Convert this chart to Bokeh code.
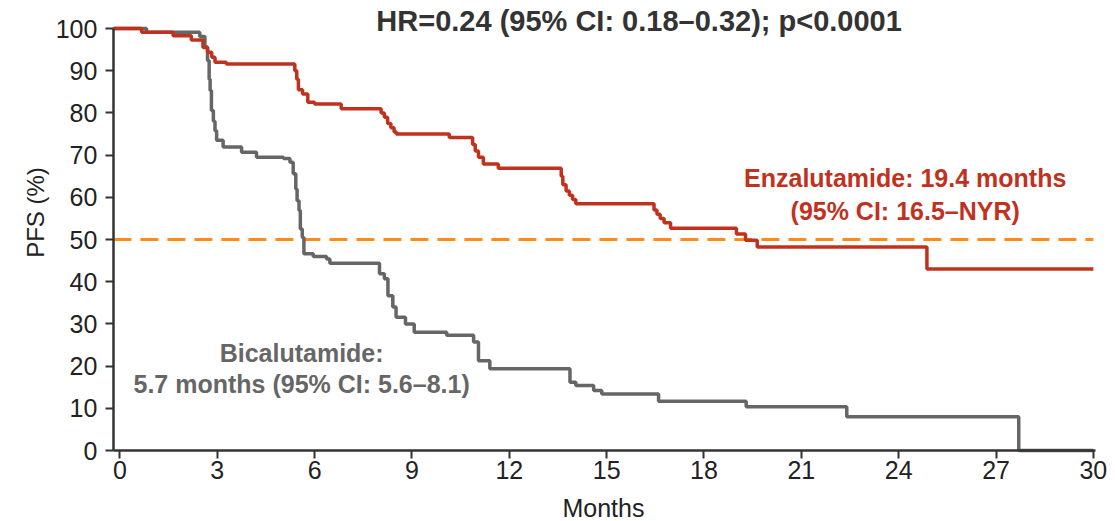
import math
from bokeh.plotting import figure
from bokeh.models import Label, FixedTicker, Range1d
from bokeh.embed import file_html
from bokeh.resources import INLINE

# ---- data ----
month_ticks = [0, 3, 6, 9, 12, 15, 18, 21, 24, 27, 30]
pfs_ticks = [0, 10, 20, 30, 40, 50, 60, 70, 80, 90, 100]

enza_t = [0, 0.67, 1.64, 2.2, 2.56, 2.7, 2.83, 2.93, 3.28,
          5.39, 5.45, 5.5, 5.63, 5.79, 6.0, 6.82,
          8.05, 8.15, 8.25, 8.35, 8.45, 8.52,
          10.15, 10.87, 10.95, 11.05, 11.2, 11.66,
          13.6, 13.65, 13.75, 13.85, 13.95, 14.05,
          16.46, 16.55, 16.65, 16.77, 16.97,
          19.0, 19.28, 19.64, 24.87, 30.0]
enza_s = [100, 99.1, 98.3, 97.3, 95.5, 94.4, 93.2, 92.0, 91.6,
          90.0, 88.0, 85.5, 84.5, 82.5, 82.1, 81.0,
          80.0, 79.0, 77.5, 76.5, 75.5, 75.0,
          74.2, 72.5, 71.0, 69.5, 67.9, 66.9,
          65.0, 63.0, 61.5, 60.5, 59.5, 58.5,
          57.0, 56.0, 55.0, 54.0, 52.7,
          51.3, 49.8, 48.2, 43.0, 43.0]

bica_t = [0, 0.82, 2.46, 2.62, 2.7, 2.75, 2.78, 2.82, 2.88, 2.93, 2.98, 3.18,
          3.75, 4.21, 5.04, 5.24, 5.34, 5.42, 5.46, 5.52, 5.56, 5.62, 5.67,
          5.96, 6.37, 6.47, 8.0, 8.15, 8.26, 8.41, 8.51, 8.8, 9.07,
          10.07, 10.9, 11.05, 11.4, 13.87, 14.05, 14.6, 14.85,
          16.6, 19.3, 22.4, 27.7, 30.0]
bica_s = [100, 99.1, 98.1, 95.6, 92.4, 88.0, 85.3, 80.6, 78.0, 75.8, 73.5, 71.9,
          70.7, 69.5, 69.2, 68.3, 65.6, 62.0, 59.2, 56.9, 52.5, 50.5, 46.6,
          46.0, 45.4, 44.4, 41.9, 40.7, 36.7, 34.0, 31.6, 30.0, 28.0,
          27.3, 25.7, 21.3, 19.4, 16.2, 15.4, 14.2, 13.4,
          11.7, 10.4, 8.0, 0.0, 0.0]

median_level = 50

title_text = "HR=0.24 (95% CI: 0.18\u20130.32); p<0.0001"
x_label = "Months"
y_label = "PFS (%)"
enza_lines = ["Enzalutamide: 19.4 months", "(95% CI: 16.5\u2013NYR)"]
bica_lines = ["Bicalutamide:", "5.7 months (95% CI: 5.6\u20138.1)"]

# ---- styling ----
RED = "#c1321e"
GRAY = "#666666"
ORANGE = "#ff8c1a"
DARK = "#333333"
FONT = "Liberation Sans"

# the frame covers the whole canvas; axes sit at fixed locations inside it
X_AXIS = -0.2          # where the y axis stands
X_AXIS_END = 30.05
X_START, X_END = -3.68, 30.62
Y_START, Y_END = -16.82, 106.64

p = figure(width=1113, height=521,
           x_range=Range1d(X_START, X_END), y_range=Range1d(Y_START, Y_END),
           output_backend="svg", toolbar_location=None,
           min_border_left=0, min_border_right=0,
           min_border_top=0, min_border_bottom=0)
p.outline_line_color = None
p.grid.visible = False
p.background_fill_color = "white"

# reference line at 50%
p.segment(x0=[X_AXIS], x1=[month_ticks[-1]], y0=[median_level], y1=[median_level],
          line_color=ORANGE, line_width=3, line_dash="18 9")

# curves start at the axis
ex = [X_AXIS] + enza_t[1:]
bx = [X_AXIS] + bica_t[1:]
p.step(bx, bica_s, mode="after", line_color=GRAY, line_width=3.5)
p.step(ex, enza_s, mode="after", line_color=RED, line_width=3.5)

# axes
for ax in (p.xaxis[0], p.yaxis[0]):
    ax.axis_line_color = DARK
    ax.axis_line_width = 2.5
    ax.major_tick_line_color = DARK
    ax.major_tick_line_width = 2
    ax.major_tick_out = 8
    ax.major_tick_in = 0
    ax.minor_tick_line_color = None
    ax.major_label_text_font = FONT
    ax.major_label_text_font_size = "25px"
    ax.major_label_text_color = "#222222"

p.xaxis.ticker = FixedTicker(ticks=month_ticks)
p.yaxis.ticker = FixedTicker(ticks=pfs_ticks)
p.xaxis.fixed_location = pfs_ticks[0]
p.yaxis.fixed_location = X_AXIS
p.xaxis.bounds = (X_AXIS, X_AXIS_END)
p.yaxis.bounds = (pfs_ticks[0], pfs_ticks[-1])
p.xaxis.major_label_standoff = 2
p.yaxis.major_label_standoff = 8

# axis titles
p.add_layout(Label(x=14.9, y=-13.6, text=x_label, text_font=FONT,
                   text_font_size="25px", text_color="#222222",
                   text_align="center", text_baseline="middle"))
p.add_layout(Label(x=-2.6, y=56.4, text=y_label, text_font=FONT, angle=math.pi / 2,
                   text_font_size="24px", text_color="#222222",
                   text_align="center", text_baseline="middle"))

# heading and annotations
p.add_layout(Label(x=16.0, y=101.9, text=title_text, text_font=FONT,
                   text_font_size="29px", text_font_style="bold",
                   text_color=DARK, text_align="center", text_baseline="middle"))
p.add_layout(Label(x=24.2, y=64.6, text=enza_lines[0], text_font=FONT,
                   text_font_size="25px", text_font_style="bold",
                   text_color=RED, text_align="center", text_baseline="middle"))
p.add_layout(Label(x=24.2, y=56.8, text=enza_lines[1], text_font=FONT,
                   text_font_size="25px", text_font_style="bold",
                   text_color=RED, text_align="center", text_baseline="middle"))
p.add_layout(Label(x=5.6, y=23.2, text=bica_lines[0], text_font=FONT,
                   text_font_size="25px", text_font_style="bold",
                   text_color=GRAY, text_align="center", text_baseline="middle"))
p.add_layout(Label(x=5.6, y=15.8, text=bica_lines[1], text_font=FONT,
                   text_font_size="25px", text_font_style="bold",
                   text_color=GRAY, text_align="center", text_baseline="middle"))

open("out.html", "w").write(file_html(p, INLINE))
